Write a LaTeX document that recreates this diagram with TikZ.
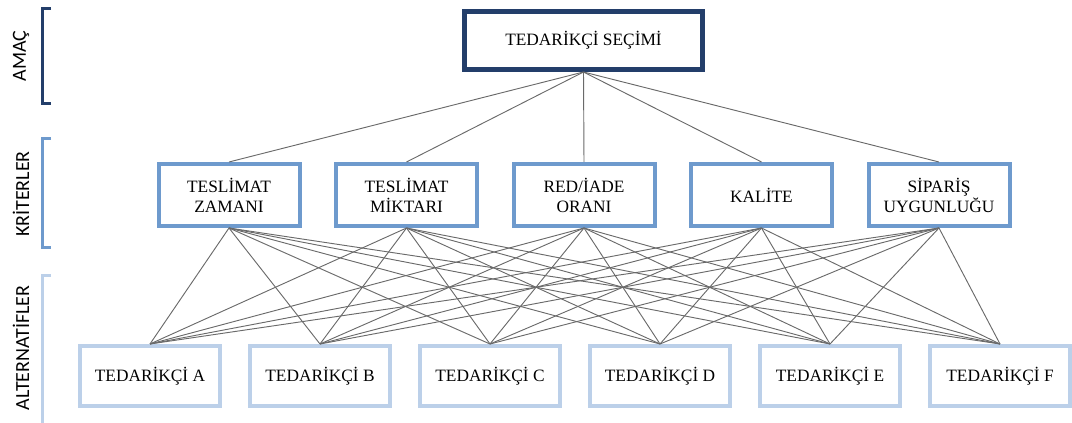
\documentclass[tikz,border=0pt]{standalone}
\usepackage{fontspec}
\setmainfont{Liberation Serif}
\newfontfamily\sidefont{Carlito}
\definecolor{navy}{HTML}{233E6A}
\definecolor{critblue}{HTML}{6E9ACD}
\definecolor{altblue}{HTML}{BCD0E9}
\definecolor{linkgray}{HTML}{6A6A6A}
\tikzset{
  boxtext/.style={inner sep=0pt, align=center, font=\fontsize{13}{15}\selectfont},
  goalbox/.style={boxtext, draw=navy, line width=3.75pt, minimum width=178.5pt, minimum height=43.5pt},
  critbox/.style={boxtext, draw=critblue, line width=3pt, minimum width=105.75pt, minimum height=46.5pt},
  altbox/.style={boxtext, draw=altblue, line width=3pt, minimum width=105pt, minimum height=45pt},
  link/.style={draw=linkgray, line width=0.7pt},
  level/.style={rotate=90, inner sep=0pt, font=\sidefont\fontsize{15}{18}\selectfont},
}
\begin{document}
\begin{tikzpicture}[x=0.75pt,y=-0.75pt]
  \useasboundingbox (0,0) rectangle (1072,423);
  % level brackets on the left
  \draw[navy, line width=2.25pt] (51,9) -- (42,9) -- (42,104) -- (51,104);
  \draw[critblue, line width=2.25pt] (51,139) -- (42,139) -- (42,248) -- (51,248);
  \draw[altblue, line width=2.25pt] (51,276) -- (42,276) -- (42,423);
  \node[level] (amac) at (21,56) {AMAÇ};
  \node[level] (kriter) at (21,194) {KRİTERLER};
  \node[level] (alternatif) at (21,348) {ALTERNATİFLER};
  % goal
  \node[goalbox] (goal) at (583.5,40.5) {TEDARİKÇİ SEÇİMİ};
  % criteria
  \foreach \c/\txt [count=\i from 0] in {zaman/{TESLİMAT\\ZAMANI}, miktar/{TESLİMAT\\MİKTARI},
      red/{RED/İADE\\ORANI}, kalite/{KALİTE}, siparis/{SİPARİŞ\\UYGUNLUĞU}}
    \node[critbox] (\c) at ({229+177.5*\i},195) {\txt};
  % alternatives
  \foreach \s [count=\i from 0] in {A,B,C,D,E,F}
    \node[altbox] (alt\s) at ({150+170*\i},376) {TEDARİKÇİ \s};
  % links
  \foreach \c in {zaman,miktar,red,kalite,siparis} {
    \draw[link] (goal.south) -- (\c.north);
    \foreach \s in {A,B,C,D,E,F}
      \draw[link] (\c.south) -- (alt\s.north);
  }
\end{tikzpicture}
\end{document}
